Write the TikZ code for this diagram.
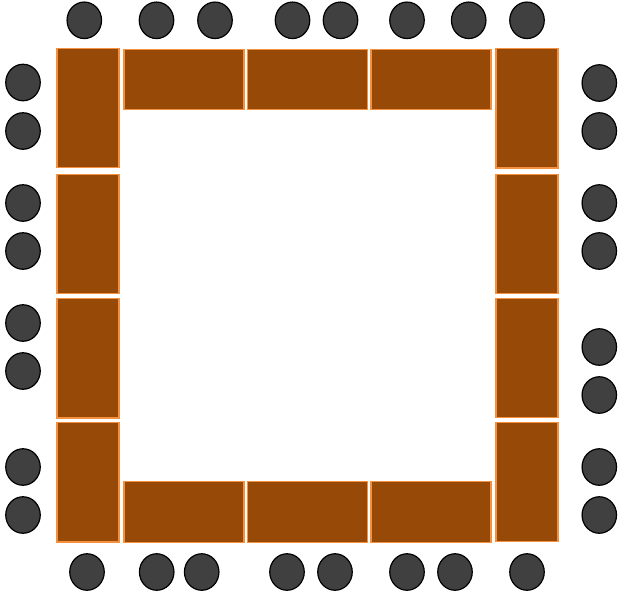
\documentclass[tikz,border=0pt]{standalone}
\usetikzlibrary{shapes.geometric}
\definecolor{tablefill}{HTML}{974A08}
\definecolor{tableedge}{HTML}{F5913E}
\definecolor{seatfill}{HTML}{404040}
\tikzset{
  tablebox/.style={rectangle, fill=tablefill, draw=tableedge, line width=1.3pt, inner sep=0pt, outer sep=0pt},
  vtable/.style={tablebox, minimum width=62pt, minimum height=119.5pt},
  htable/.style={tablebox, minimum width=120pt, minimum height=60.5pt},
  seat/.style={ellipse, fill=seatfill, draw=black, line width=1.2pt, minimum width=34.5pt, minimum height=36.5pt, inner sep=0pt, outer sep=0pt}
}
\begin{document}
\begin{tikzpicture}[x=1pt,y=-1pt]
\useasboundingbox (0,0) rectangle (620,592);
% left column tables
\foreach \y [count=\i] in {108,234,358.2,482.2}
  \node[vtable] (tl\i) at (88,\y) {};
% right column tables
\foreach \y [count=\i] in {108.2,234,358,481.9}
  \node[vtable] (tr\i) at (527,\y) {};
% top row tables
\foreach \x [count=\i] in {184,307.8,431}
  \node[htable] (tt\i) at (\x,79.5) {};
% bottom row tables
\foreach \x [count=\i] in {184,307.5,431}
  \node[htable] (tb\i) at (\x,512) {};
% top seats
\foreach \x [count=\i] in {84.3,156.5,215,292.5,340.5,407,468.7,527}
  \node[seat] (st\i) at (\x,20.3) {};
% bottom seats
\foreach \x [count=\i] in {87,156.7,201.7,287,335,407,455,527}
  \node[seat] (sb\i) at (\x,572) {};
% left seats
\foreach \y [count=\i] in {82.5,131,203,251,323,371,467,515}
  \node[seat] (sl\i) at (23,\y) {};
% right seats
\foreach \y [count=\i] in {83,131,203,251,347,395,467,515}
  \node[seat] (sr\i) at (599.3,\y) {};
\end{tikzpicture}
\end{document}
